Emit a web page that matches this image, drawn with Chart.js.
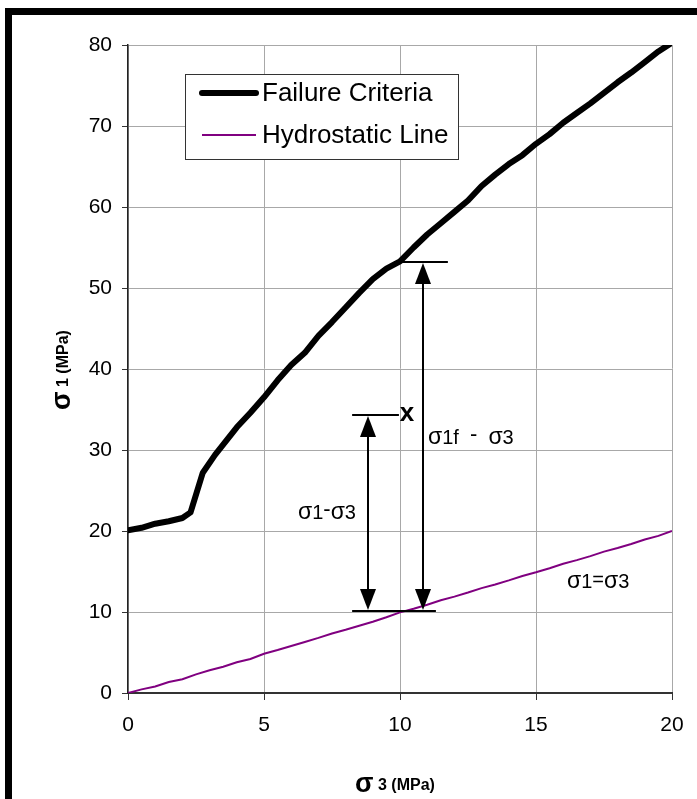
<!DOCTYPE html>
<html>
<head>
<meta charset="utf-8">
<script src="https://cdn.jsdelivr.net/npm/chart.js@4/dist/chart.umd.min.js"></script>
<style>
  html, body { margin: 0; padding: 0; background: #ffffff; }
  canvas { display: block; }
</style>
</head>
<body>
<canvas id="chart" width="697" height="799"></canvas>
<script>
// Failure envelope: sigma3 (MPa) -> sigma1 (MPa)
const failureSigma3 = [0, 0.5, 1, 1.5, 2, 2.3, 2.75, 3.2, 4, 4.5, 5, 5.5, 6, 6.5, 7, 7.5, 8, 8.5, 9, 9.5,
  10, 10.5, 11, 11.5, 12, 12.5, 13, 13.5, 14, 14.5, 15, 15.5, 16, 16.5, 17, 17.5, 18, 18.5, 19, 19.5, 20];
const failureSigma1 = [20.1, 20.4, 20.9, 21.2, 21.6, 22.3, 27.2, 29.4, 32.8, 34.6, 36.5, 38.6, 40.5, 42.0, 44.1, 45.8, 47.6, 49.4, 51.1, 52.4,
  53.3, 55.0, 56.6, 58.0, 59.4, 60.8, 62.6, 64.0, 65.3, 66.4, 67.8, 69.0, 70.4, 71.6, 72.8, 74.1, 75.4, 76.6, 77.9, 79.2, 80.3];

// Hydrostatic line: sigma1 = sigma3
const hydroSigma3 = [0, 0.5, 1, 1.5, 2, 2.5, 3, 3.5, 4, 4.5, 5, 5.5, 6, 6.5, 7, 7.5, 8, 8.5, 9, 9.5,
  10, 10.5, 11, 11.5, 12, 12.5, 13, 13.5, 14, 14.5, 15, 15.5, 16, 16.5, 17, 17.5, 18, 18.5, 19, 19.5, 20];
const hydroSigma1 = [0, 0.45, 0.8, 1.35, 1.7, 2.3, 2.8, 3.25, 3.8, 4.2, 4.85, 5.3, 5.8, 6.3, 6.8, 7.35, 7.8, 8.3, 8.8, 9.35,
  9.95, 10.4, 10.9, 11.45, 11.9, 12.4, 12.95, 13.4, 13.9, 14.45, 14.9, 15.4, 15.95, 16.4, 16.9, 17.45, 17.9, 18.4, 18.95, 19.4, 20.0];

const xTickValues = [0, 5, 10, 15, 20];
const yTickValues = [0, 10, 20, 30, 40, 50, 60, 70, 80];

const seriesLabels = ['Failure Criteria', 'Hydrostatic Line'];

// Stress state and distances (MPa)
const baseSigma1 = 10.15;          // hydrostatic level of the marked state
const stateSigma3 = 10.26;         // marked state "x"
const stateSigma1 = 34.3;
const failSigma1 = 53.2;           // sigma1 at failure for the same sigma3
const arrowStateSigma3 = 8.82;     // where the sigma1 - sigma3 arrow is drawn
const arrowFailSigma3 = 10.85;     // where the sigma1f - sigma3 arrow is drawn
const baseBar = [8.24, 11.32];
const stateBar = [8.24, 9.96];
const failBar = [10.0, 11.76];

const FONT = '"Liberation Sans", Arial, Helvetica, sans-serif';

function toPts(xs, ys) { return xs.map((x, i) => ({ x: x, y: ys[i] })); }

// draws a run of text pieces: [text, size, bold, dy]
function drawRun(ctx, x, y, pieces, align) {
  let total = 0;
  const widths = pieces.map(p => {
    ctx.font = (p[2] ? 'bold ' : '') + p[1] + 'px ' + FONT;
    const w = ctx.measureText(p[0]).width;
    total += w;
    return w;
  });
  let cx = align === 'center' ? x - total / 2 : x;
  ctx.textBaseline = 'middle';
  ctx.textAlign = 'left';
  pieces.forEach((p, i) => {
    ctx.font = (p[2] ? 'bold ' : '') + p[1] + 'px ' + FONT;
    ctx.fillText(p[0], cx, y + (p[3] || 0));
    cx += widths[i];
  });
}

function arrowHead(ctx, x, yTip, dir) {
  const w = 8, h = 21;
  ctx.beginPath();
  ctx.moveTo(x, yTip);
  ctx.lineTo(x - w, yTip + dir * h);
  ctx.lineTo(x + w, yTip + dir * h);
  ctx.closePath();
  ctx.fill();
}

const decorations = {
  id: 'decorations',
  afterDraw(chart) {
    const ctx = chart.ctx;
    const xs = chart.scales.x, ys = chart.scales.y;
    const px = v => xs.getPixelForValue(v);
    const py = v => ys.getPixelForValue(v);
    ctx.save();

    // outer frame
    ctx.fillStyle = '#000';
    ctx.fillRect(5, 8, 7, chart.height);
    ctx.fillRect(5, 8, chart.width, 7);

    // legend box
    const lx = 185, ly = 74, lw = 273, lh = 85;
    ctx.fillStyle = '#fff';
    ctx.fillRect(lx, ly, lw, lh);
    ctx.strokeStyle = '#333';
    ctx.lineWidth = 1;
    ctx.strokeRect(lx + 0.5, ly + 0.5, lw, lh);
    const rows = [93, 135];
    chart.data.datasets.forEach((ds, i) => {
      ctx.strokeStyle = ds.borderColor;
      ctx.lineWidth = ds.borderWidth;
      ctx.lineCap = i === 0 ? 'round' : 'butt';
      ctx.beginPath();
      ctx.moveTo(202, rows[i]);
      ctx.lineTo(256, rows[i]);
      ctx.stroke();
      ctx.fillStyle = '#000';
      ctx.font = '26px ' + FONT;
      ctx.textBaseline = 'middle';
      ctx.textAlign = 'left';
      ctx.fillText(ds.label, 262, rows[i] + 1);
    });
    ctx.lineCap = 'butt';

    // horizontal reference bars
    ctx.strokeStyle = '#000';
    ctx.lineWidth = 2;
    [[baseBar, baseSigma1], [stateBar, stateSigma1], [failBar, failSigma1]].forEach(([b, s1]) => {
      ctx.beginPath();
      ctx.moveTo(px(b[0]), Math.round(py(s1)));
      ctx.lineTo(px(b[1]), Math.round(py(s1)));
      ctx.stroke();
    });

    // double-headed arrows
    ctx.fillStyle = '#000';
    [[arrowStateSigma3, stateSigma1], [arrowFailSigma3, failSigma1]].forEach(([s3, top]) => {
      const x = Math.round(px(s3));
      const yTop = Math.round(py(top)) + 1;
      const yBot = Math.round(py(baseSigma1)) - 1;
      ctx.lineWidth = 2;
      ctx.beginPath();
      ctx.moveTo(x, yTop + 15);
      ctx.lineTo(x, yBot - 15);
      ctx.stroke();
      arrowHead(ctx, x, yTop, 1);
      arrowHead(ctx, x, yBot, -1);
    });

    // marked state
    ctx.fillStyle = '#000';
    ctx.font = 'bold 26px ' + FONT;
    ctx.textAlign = 'center';
    ctx.textBaseline = 'middle';
    ctx.fillText('x', px(stateSigma3), py(stateSigma1) - 1);

    // annotation labels
    drawRun(ctx, 428, 438, [['σ', 23], ['1f', 20], ['  ', 20], ['-', 22, false, -3], ['  ', 20], ['σ', 23], ['3', 20]]);
    drawRun(ctx, 298, 513, [['σ', 23], ['1', 20], ['-', 22, false, -3], ['σ', 23], ['3', 20]]);
    drawRun(ctx, 567, 582, [['σ', 23], ['1', 20], ['=', 20, false, -2], ['σ', 23], ['3', 20]]);

    // axis titles
    drawRun(ctx, 395, 785, [['σ', 27, true], [' 3 (MPa)', 16, true, 1]], 'center');
    ctx.translate(63, 370);
    ctx.rotate(-Math.PI / 2);
    drawRun(ctx, 0, 0, [['σ', 27, true], [' 1 (MPa)', 16, true, 1]], 'center');

    ctx.restore();
  }
};

new Chart(document.getElementById('chart'), {
  type: 'line',
  data: {
    datasets: [
      {
        label: seriesLabels[0],
        data: toPts(failureSigma3, failureSigma1),
        borderColor: '#000000',
        borderWidth: 6,
        borderJoinStyle: 'round',
        borderCapStyle: 'round',
        pointRadius: 0,
        tension: 0
      },
      {
        label: seriesLabels[1],
        data: toPts(hydroSigma3, hydroSigma1),
        borderColor: '#800080',
        borderWidth: 2,
        pointRadius: 0,
        tension: 0
      }
    ]
  },
  options: {
    responsive: false,
    animation: false,
    layout: { padding: { top: 45, right: 25, left: 0, bottom: 0 } },
    plugins: { legend: { display: false }, tooltip: { enabled: false } },
    scales: {
      x: {
        type: 'linear',
        min: 0, max: 20,
        afterFit(scale) { scale.height = 106; },
        afterBuildTicks(scale) { scale.ticks = xTickValues.map(v => ({ value: v })); },
        ticks: { color: '#000', font: { family: FONT, size: 21 }, padding: 13, maxRotation: 0 },
        grid: { color: '#a8a8a8', lineWidth: 1, tickLength: 7, tickColor: '#333' },
        border: { color: '#333', width: 2 }
      },
      y: {
        type: 'linear',
        min: 0, max: 80,
        afterFit(scale) { scale.width = 128; },
        afterBuildTicks(scale) { scale.ticks = yTickValues.map(v => ({ value: v })); },
        ticks: { color: '#000', font: { family: FONT, size: 21 }, padding: 10 },
        grid: { color: '#a8a8a8', lineWidth: 1, tickLength: 6, tickColor: '#333' },
        border: { color: '#222', width: 1.5 }
      }
    }
  },
  plugins: [decorations]
});
</script>
</body>
</html>
